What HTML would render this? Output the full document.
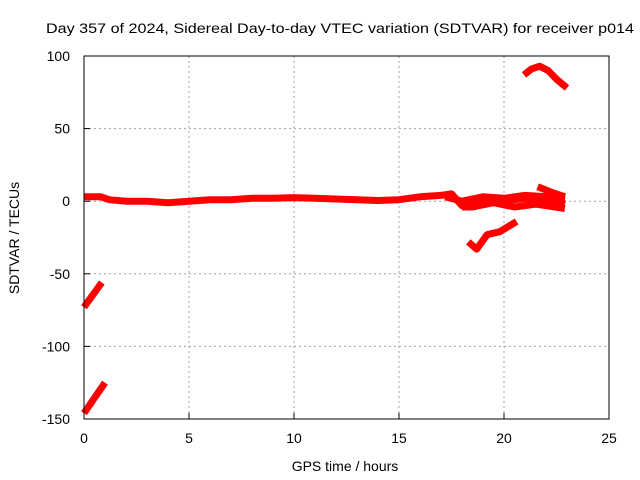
<!DOCTYPE html>
<html><head><meta charset="utf-8"><style>
body{margin:0;background:#fff}
svg{display:block;font-family:"Liberation Sans",sans-serif}
</style></head><body>
<svg id="chart" width="640" height="480" viewBox="0 0 640 480">
<rect width="640" height="480" fill="#fff"/>
<text x="340" y="33" text-anchor="middle" font-size="14" textLength="588" lengthAdjust="spacingAndGlyphs" fill="#000">Day 357 of 2024, Sidereal Day-to-day VTEC variation (SDTVAR) for receiver p014</text>
<g id="grid"></g>
<g id="ticks"></g>
<g id="series"></g>
<rect x="84" y="56" width="525" height="363" fill="none" stroke="#000" stroke-width="1"/>
<text x="345" y="471" text-anchor="middle" font-size="14" fill="#000">GPS time / hours</text>
<text transform="translate(19,238) rotate(-90)" text-anchor="middle" font-size="14" fill="#000">SDTVAR / TECUs</text>
</svg>
<script>
const xTicks=[0,5,10,15,20,25];
const yTicks=[100,50,0,-50,-100,-150];
const bandMain=[[0,3],[0.8,3],[1.2,1],[2,0],[3,0],[4,-1],[5,0],[6,1],[7,1],[8,2],[9,2],[10,2.5],[11,2],[12,1.5],[13,1],[14,0.5],[15,1],[16,3],[17,4],[17.5,5],[18,-3],[18.5,-2],[19,2],[19.5,2],[20,0],[20.5,1],[21,2],[22,1],[22.5,0],[22.9,-2]];
const bandUpper=[[17.2,3],[18,0],[19,3],[20,2],[21,4],[22,3],[22.9,1]];
const bandLower=[[18,-4],[18.5,-4],[19.5,-1],[20.5,-4],[21.5,-2],[22.9,-5]];
const spike=[[21.6,10],[22.3,6],[22.9,3]];
const arcTop=[[20.95,87],[21.3,91],[21.7,93],[22.1,90],[22.5,84],[23,78]];
const dipNeg=[[18.3,-28],[18.7,-33],[19.2,-23],[19.8,-21],[20.6,-14]];
const diagA=[[0,-73],[0.85,-56]];
const diagB=[[0,-146],[1.0,-125]];
const allSeries=[["band-main",bandMain],["band-upper",bandUpper],["band-lower",bandLower],["spike",spike],["arc-top",arcTop],["dip-negative",dipNeg],["diagonal-a",diagA],["diagonal-b",diagB]];
const X0=84,X1=609,Y0=419,Y1=56;
const sx=h=>X0+(h-0)/(25-0)*(X1-X0);
const sy=v=>Y0-(v+150)/(250)*(Y0-Y1);
const NS="http://www.w3.org/2000/svg";
const grid=document.getElementById('grid'),ticks=document.getElementById('ticks'),ser=document.getElementById('series');
function mk(t,a,p){const e=document.createElementNS(NS,t);for(const k in a)e.setAttribute(k,a[k]);p.appendChild(e);return e;}
xTicks.forEach(t=>{const x=sx(t);
 if(t>0&&t<25){const g=mk('line',{x1:x,x2:x,y1:Y1,y2:Y0,stroke:'#a0a0a0','stroke-dasharray':'2,3'},grid);
 
 }
 const l=mk('line',{x1:x,x2:x,y1:Y0,y2:Y0-6,stroke:'#000'},ticks);
 
 
 const tx=mk('text',{x:x,y:Y0+24,'text-anchor':'middle','font-size':14},ticks);tx.textContent=t;
 
 
});
yTicks.forEach(t=>{const y=sy(t);
 if(t>-150&&t<100){const g=mk('line',{x1:X0,x2:X1,y1:y,y2:y,stroke:'#a0a0a0','stroke-dasharray':'2,3'},grid);
 
 }
 const l=mk('line',{x1:X0,x2:X0+6,y1:y,y2:y,stroke:'#000'},ticks);
 
 
 const tx=mk('text',{x:X0-14,y:y+5,'text-anchor':'end','font-size':14},ticks);tx.textContent=t;
 
 
});
allSeries.forEach(([name,pts])=>{
 const d=pts.map(p=>sx(p[0]).toFixed(1)+','+sy(p[1]).toFixed(1)).join(' ');
 const pl=mk('polyline',{points:d,fill:'none',stroke:'#ff0000','stroke-width':7,'stroke-linejoin':'round'},ser);
 
 
});
</script>
</body></html>
